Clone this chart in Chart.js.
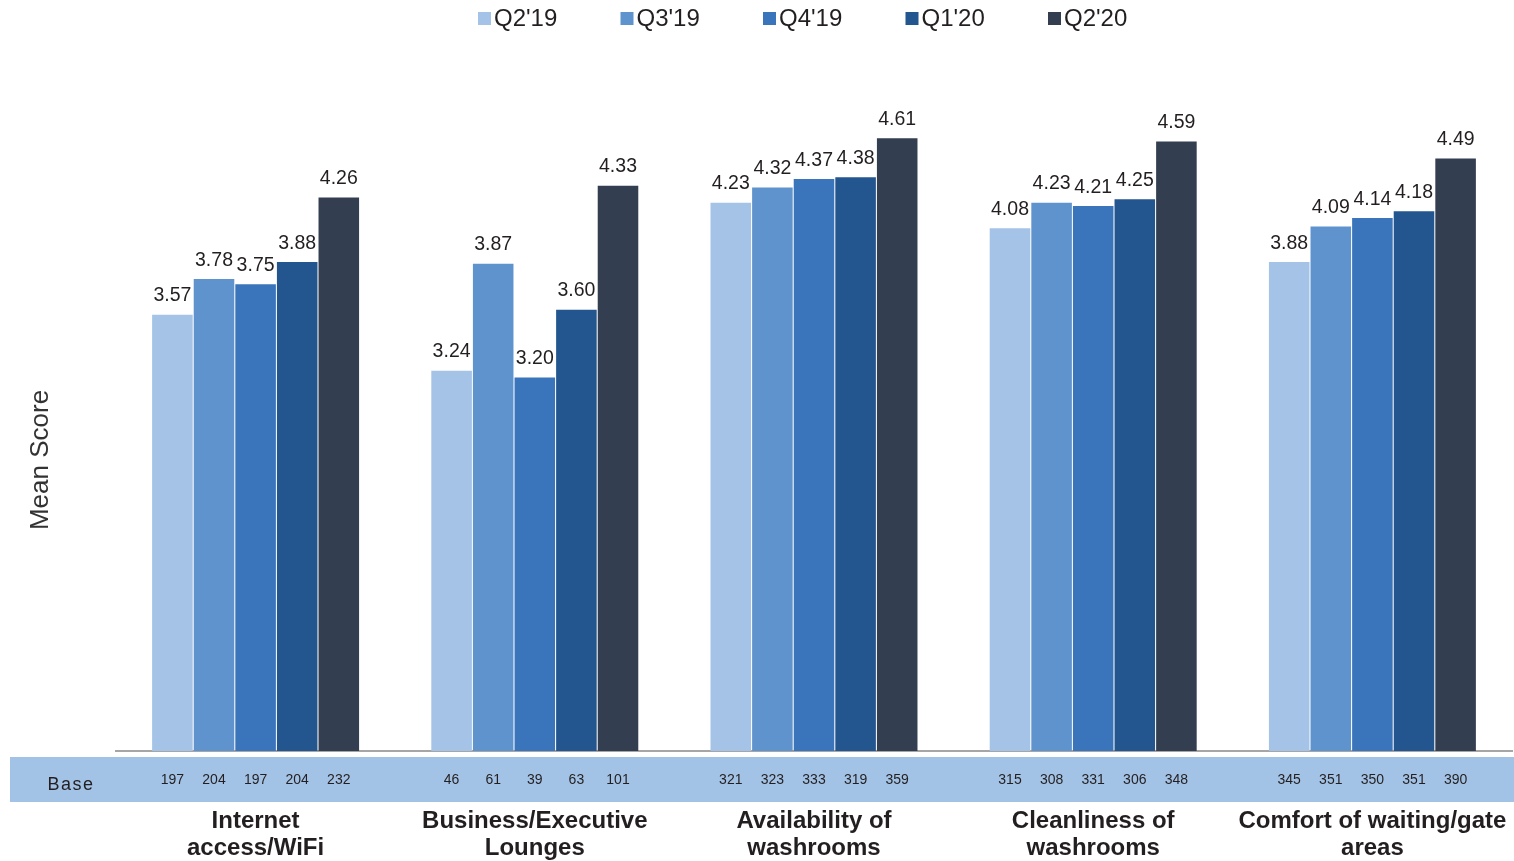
<!DOCTYPE html>
<html>
<head>
<meta charset="utf-8">
<script src="https://cdn.jsdelivr.net/npm/chart.js@4.4.0/dist/chart.umd.min.js"></script>
<style>
  html, body { margin: 0; padding: 0; background: #ffffff; }
  #wrap { width: 1514px; height: 861px; position: relative; }
</style>
</head>
<body>
<div id="wrap"><canvas id="chart" width="1514" height="861"></canvas></div>
<script>
// Attributes rated, one group of bars each
const categories = [
  ['Internet', 'access/WiFi'],
  ['Business/Executive', 'Lounges'],
  ['Availability of', 'washrooms'],
  ['Cleanliness of', 'washrooms'],
  ['Comfort of waiting/gate', 'areas']
];

// Quarters shown in the legend
const quarters = ["Q2'19", "Q3'19", "Q4'19", "Q1'20", "Q2'20"];

// Mean scores per quarter (one value per attribute)
const scoreQ2_19 = [3.57, 3.24, 4.23, 4.08, 3.88];
const scoreQ3_19 = [3.78, 3.87, 4.32, 4.23, 4.09];
const scoreQ4_19 = [3.75, 3.20, 4.37, 4.21, 4.14];
const scoreQ1_20 = [3.88, 3.60, 4.38, 4.25, 4.18];
const scoreQ2_20 = [4.26, 4.33, 4.61, 4.59, 4.49];

// Respondent base per quarter (one value per attribute)
const baseQ2_19 = [197, 46, 321, 315, 345];
const baseQ3_19 = [204, 61, 323, 308, 351];
const baseQ4_19 = [197, 39, 333, 331, 350];
const baseQ1_20 = [204, 63, 319, 306, 351];
const baseQ2_20 = [232, 101, 359, 348, 390];

const scores = [scoreQ2_19, scoreQ3_19, scoreQ4_19, scoreQ1_20, scoreQ2_20];
const bases = [baseQ2_19, baseQ3_19, baseQ4_19, baseQ1_20, baseQ2_20];
const colors = ['#a4c3e6', '#5f93cd', '#3a74bb', '#23558f', '#333e50'];

const FONT = '"Liberation Sans", Arial, Helvetica, sans-serif';
const TEXT = '#231f20';

// Legend row, value labels above bars, base row, category labels and axis title
const annotate = {
  id: 'annotate',
  beforeDatasetsDraw(chart) {
    const ctx = chart.ctx;
    const area = chart.chartArea;
    ctx.save();
    // base band under the axis
    ctx.fillStyle = '#a3c3e6';
    ctx.fillRect(10, area.bottom + 6, chart.width - 10, 45);
    ctx.restore();
  },
  afterDatasetsDraw(chart) {
    const ctx = chart.ctx;
    const area = chart.chartArea;
    const xScale = chart.scales.x;
    ctx.save();

    // legend
    ctx.textAlign = 'left';
    ctx.textBaseline = 'middle';
    ctx.font = '24px ' + FONT;
    chart.data.datasets.forEach((ds, di) => {
      const x = 478 + di * 142.5;
      ctx.fillStyle = ds.backgroundColor;
      ctx.fillRect(x, 12, 13, 13);
      ctx.fillStyle = TEXT;
      ctx.fillText(ds.label, x + 16, 19);
    });

    ctx.fillStyle = TEXT;
    ctx.textAlign = 'center';
    chart.data.datasets.forEach((ds, di) => {
      const meta = chart.getDatasetMeta(di);
      meta.data.forEach((bar, i) => {
        // value label
        ctx.font = '19.5px ' + FONT;
        ctx.textBaseline = 'bottom';
        ctx.fillText(ds.data[i].toFixed(2), bar.x, bar.y - 9);
        // base count
        ctx.font = '14px ' + FONT;
        ctx.textBaseline = 'middle';
        ctx.fillText(String(bases[di][i]), bar.x, area.bottom + 29);
      });
    });

    // row label
    ctx.font = '18px ' + FONT;
    ctx.letterSpacing = '1.5px';
    ctx.textBaseline = 'middle';
    ctx.fillText('Base', 71, area.bottom + 34);
    ctx.letterSpacing = '0px';

    // category labels
    ctx.font = 'bold 24px ' + FONT;
    ctx.textBaseline = 'middle';
    categories.forEach((lines, i) => {
      const x = xScale.getPixelForValue(i);
      lines.forEach((line, li) => {
        ctx.fillText(line, x, area.bottom + 70 + li * 27);
      });
    });

    // axis title
    ctx.translate(41, 460);
    ctx.rotate(-Math.PI / 2);
    ctx.font = '26px ' + FONT;
    ctx.fillStyle = '#333333';
    ctx.textBaseline = 'middle';
    ctx.fillText('Mean Score', 0, 0);
    ctx.restore();
  }
};

new Chart(document.getElementById('chart'), {
  type: 'bar',
  data: {
    labels: categories.map(c => c.join(' ')),
    datasets: quarters.map((q, i) => ({
      label: q,
      data: scores[i],
      backgroundColor: colors[i],
      borderWidth: 0,
      barPercentage: 0.975,
      categoryPercentage: 0.745
    }))
  },
  options: {
    responsive: false,
    animation: false,
    layout: { padding: { left: 116, right: 2, top: 72, bottom: 110 } },
    plugins: {
      legend: { display: false },
      tooltip: { enabled: false }
    },
    scales: {
      x: {
        grid: { display: false, drawTicks: false },
        border: { display: true, color: '#a6a6a6', width: 2 },
        ticks: { display: false }
      },
      y: {
        display: false,
        min: 1,
        max: 5
      }
    }
  },
  plugins: [annotate]
});
</script>
</body>
</html>
